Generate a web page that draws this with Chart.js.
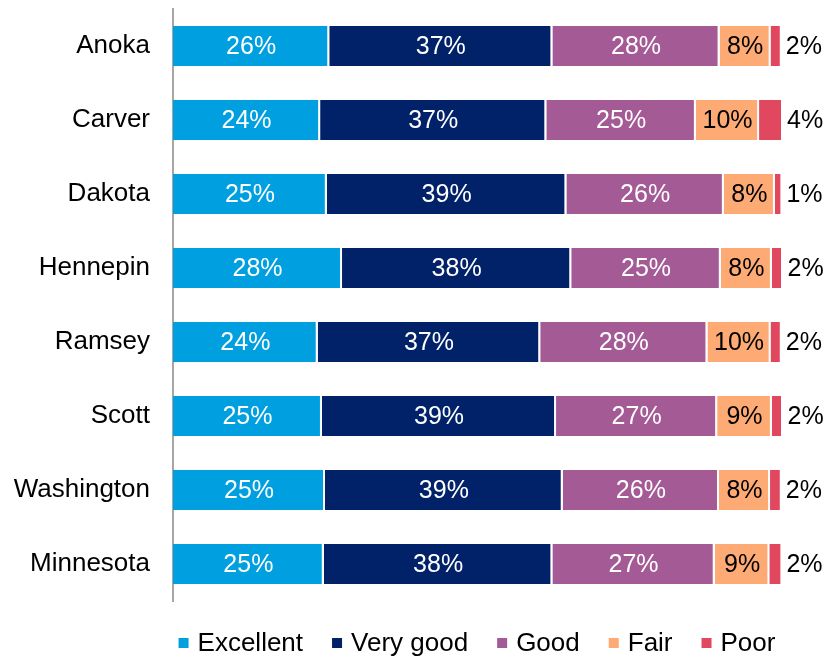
<!DOCTYPE html>
<html>
<head>
<meta charset="utf-8">
<script src="https://cdn.jsdelivr.net/npm/chart.js@4"></script>
<style>
  html, body { margin: 0; padding: 0; background: #fff; }
  #wrap { width: 829px; height: 657px; }
</style>
</head>
<body>
<div id="wrap"><canvas id="healthChart"></canvas></div>
<script>
// Kategori dan nilai (persen)
const counties = ['Anoka', 'Carver', 'Dakota', 'Hennepin', 'Ramsey', 'Scott', 'Washington', 'Minnesota'];
const excellent = [25.7, 24.2, 25.3, 27.8, 23.8, 24.5, 25.0, 24.8];
const veryGood  = [36.7, 37.2, 39.4, 37.7, 36.6, 38.5, 39.1, 37.6];
const good      = [27.5, 24.6, 25.9, 24.6, 27.5, 26.5, 25.7, 26.7];
const fair      = [8.4, 10.4, 8.4, 8.4, 10.4, 9.0, 8.4, 9.0];
const poor      = [1.5, 3.6, 0.9, 1.6, 1.5, 1.6, 1.6, 1.8];

const fontFamily = '"Liberation Sans", Arial, sans-serif';
const colors = ['#009FDF', '#012169', '#A35A95', '#FDAA75', '#E1475F'];
const labelColors = ['#fff', '#fff', '#fff', '#000', '#000'];

// Plugin kecil untuk label persen di dalam/di samping batang
const barLabels = {
  id: 'barLabels',
  afterDatasetsDraw(chart) {
    const ctx = chart.ctx;
    ctx.save();
    ctx.font = '25px ' + fontFamily;
    ctx.textBaseline = 'middle';
    chart.data.datasets.forEach((ds, i) => {
      const meta = chart.getDatasetMeta(i);
      meta.data.forEach((bar, j) => {
        const txt = Math.round(ds.data[j]) + '%';
        const p = bar.getProps(['x', 'y', 'base'], true);
        ctx.fillStyle = labelColors[i];
        if (ds.label === 'Poor') {
          ctx.textAlign = 'left';
          ctx.fillText(txt, p.x + 6, p.y + 1);
        } else {
          ctx.textAlign = 'center';
          ctx.fillText(txt, (p.x + p.base) / 2, p.y + 1);
        }
      });
    });
    ctx.restore();
  }
};

// Legenda sendiri: kotak kecil + teks, di tengah area grafik
const bottomLegend = {
  id: 'bottomLegend',
  afterDraw(chart) {
    const ctx = chart.ctx;
    const area = chart.chartArea;
    const box = 10, gapText = 9, gapItem = 29;
    ctx.save();
    ctx.font = '26px ' + fontFamily;
    ctx.textBaseline = 'middle';
    ctx.textAlign = 'left';
    const items = chart.data.datasets.map(ds => ({
      label: ds.label, color: ds.backgroundColor, w: ctx.measureText(ds.label).width
    }));
    let total = 0;
    items.forEach((it, i) => { total += box + gapText + it.w + (i < items.length - 1 ? gapItem : 0); });
    let x = (area.left + area.right) / 2 - total / 2;
    const y = 643;
    items.forEach(it => {
      ctx.fillStyle = it.color;
      ctx.fillRect(x, y - box / 2, box, box);
      x += box + gapText;
      ctx.fillStyle = '#000';
      ctx.fillText(it.label, x, y + 1);
      x += it.w + gapItem;
    });
    ctx.restore();
  }
};

function makeDataset(label, data, i) {
  return {
    label: label,
    data: data,
    backgroundColor: colors[i],
    borderColor: '#fff',
    borderWidth: { left: 0, top: 0, bottom: 0, right: i < 4 ? 2 : 0 },
    borderSkipped: false,
    barPercentage: 0.54,
    categoryPercentage: 1.0
  };
}

new Chart(document.getElementById('healthChart'), {
  type: 'bar',
  data: {
    labels: counties,
    datasets: [
      makeDataset('Excellent', excellent, 0),
      makeDataset('Very good', veryGood, 1),
      makeDataset('Good', good, 2),
      makeDataset('Fair', fair, 3),
      makeDataset('Poor', poor, 4)
    ]
  },
  options: {
    indexAxis: 'y',
    responsive: true,
    maintainAspectRatio: false,
    animation: false,
    layout: { padding: { top: 9, right: 48, left: 0, bottom: 56 } },
    scales: {
      x: { stacked: true, min: 0, max: 100, display: false },
      y: {
        stacked: true,
        grid: { display: false, drawTicks: false },
        border: { color: '#a6a6a6', width: 2 },
        ticks: { color: '#000', font: { size: 26, family: fontFamily }, padding: 23 },
        afterFit(scale) {
          scale.width = 173;
          scale.paddingTop = 0;
          scale.paddingBottom = 0;
        }
      }
    },
    plugins: {
      legend: { display: false },
      tooltip: { enabled: false }
    }
  },
  plugins: [barLabels, bottomLegend]
});
</script>
</body>
</html>
